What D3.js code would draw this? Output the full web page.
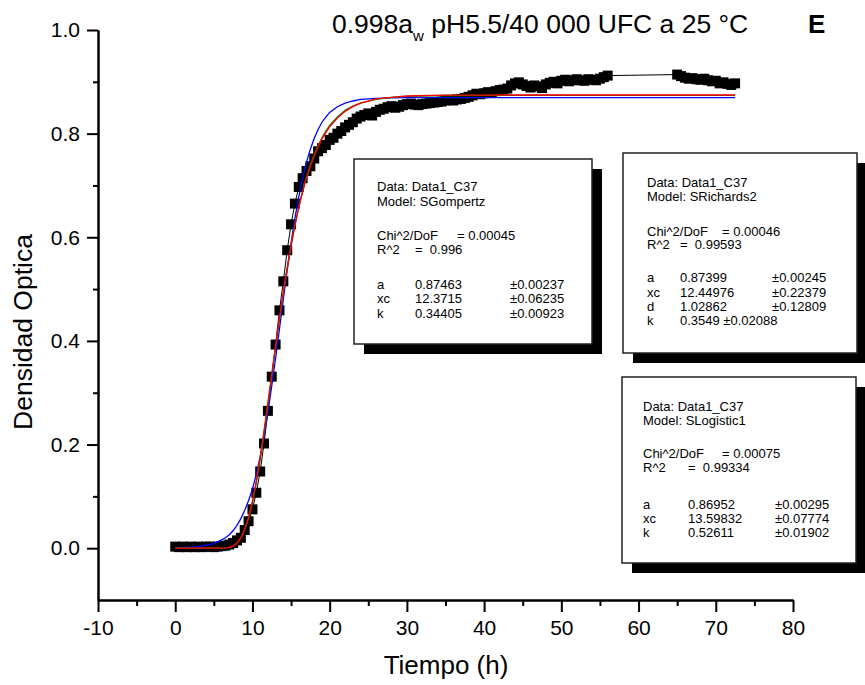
<!DOCTYPE html>
<html>
<head>
<meta charset="utf-8">
<script src="https://cdn.jsdelivr.net/npm/d3@7"></script>
<style>
  body { margin: 0; background: #fff; }
  svg { font-family: Arial, "Liberation Sans", sans-serif; }
  .axis path, .axis line { stroke: #000; stroke-width: 2; }
  .axis text { font-size: 21px; fill: #000; font-family: Arial, "Liberation Sans", sans-serif; }
  .box text { font-size: 13px; white-space: pre; fill: #000; }
</style>
</head>
<body>
<div id="plot"></div>
<script>
// measured data (hours, optical density)
const hours1 = [0,0.5,1,1.5,2,2.5,3,3.5,4,4.5,5,5.5,6,6.5,7,7.5,8,8.5,9,9.5,10,10.5,11,11.5,12,12.5,13,13.5,14,14.5,15,15.5,16,16.5,17,17.5,18,18.5,19,19.5,20,20.5,21,21.5,22,22.5,23,23.5,24,24.5,25,25.5,26,26.5,27,27.5,28,28.5,29,29.5,30,30.5,31,31.5,32,32.5,33,33.5,34,34.5,35,35.5,36,36.5,37,37.5,38,38.5,39,39.5,40,40.5,41,41.5,42,42.5,43,43.5,44,44.5,45,45.5,46,46.5,47,47.5,48,48.5,49,49.5,50,50.5,51,51.5,52,52.5,53,53.5,54,54.5,55,55.5,56]
const od1 = [0.003,0.002,0.003,0.002,0.003,0.002,0.003,0.002,0.003,0.003,0.002,0.003,0.004,0.005,0.007,0.010,0.015,0.020,0.035,0.052,0.075,0.107,0.148,0.202,0.265,0.331,0.393,0.459,0.515,0.575,0.625,0.665,0.697,0.714,0.728,0.737,0.752,0.766,0.772,0.778,0.788,0.792,0.800,0.805,0.812,0.817,0.822,0.829,0.833,0.836,0.839,0.835,0.842,0.846,0.848,0.851,0.853,0.850,0.852,0.855,0.857,0.858,0.856,0.855,0.857,0.858,0.859,0.860,0.861,0.862,0.864,0.865,0.864,0.866,0.867,0.869,0.871,0.874,0.877,0.876,0.878,0.880,0.879,0.882,0.884,0.885,0.887,0.893,0.897,0.899,0.895,0.892,0.889,0.893,0.891,0.888,0.895,0.898,0.900,0.897,0.902,0.904,0.901,0.903,0.905,0.903,0.902,0.905,0.904,0.903,0.906,0.909,0.912]
const hours2 = [65,65.5,66,66.5,67,67.5,68,68.5,69,69.5,70,70.5,71,71.5,72,72.5]
const od2 = [0.914,0.911,0.908,0.906,0.907,0.905,0.904,0.906,0.903,0.901,0.902,0.897,0.899,0.896,0.894,0.897]

// fitted curves
const fitHours = [0,1,2,3,4,5,6,6.5,7,7.5,8,8.5,9,9.5,10,10.5,11,11.5,12,12.5,13,13.5,14,14.5,15,15.5,16,16.5,17,17.5,18,18.5,19,19.5,20,21,22,23,24,26,28,30,35,40,50,60,72.5]
const logisticOD = [0.001,0.001,0.002,0.003,0.006,0.009,0.016,0.020,0.026,0.034,0.044,0.057,0.073,0.092,0.114,0.143,0.176,0.215,0.262,0.313,0.367,0.423,0.481,0.536,0.589,0.637,0.678,0.714,0.745,0.770,0.791,0.808,0.822,0.832,0.841,0.852,0.859,0.863,0.866,0.868,0.869,0.8695,0.8695,0.8695,0.8695,0.8695,0.8695]
const richardsOD = [0,0,0,0,0,0,0.0001,0.0006,0.0016,0.004,0.010,0.020,0.035,0.058,0.087,0.126,0.171,0.222,0.275,0.331,0.387,0.441,0.493,0.541,0.585,0.625,0.659,0.690,0.717,0.740,0.760,0.777,0.792,0.805,0.816,0.832,0.845,0.853,0.859,0.866,0.870,0.872,0.8736,0.8739,0.874,0.874,0.874]
const gompertzOD = [0,0,0,0,0,0,0.0001,0.0005,0.0015,0.004,0.010,0.020,0.036,0.060,0.091,0.130,0.176,0.227,0.281,0.336,0.391,0.444,0.494,0.540,0.583,0.622,0.657,0.687,0.714,0.737,0.757,0.775,0.790,0.802,0.813,0.830,0.843,0.852,0.859,0.867,0.870,0.8726,0.8742,0.8745,0.8746,0.8746,0.8746]

const xTicks = [-10,0,10,20,30,40,50,60,70,80]
const xMinor = [-5,5,15,25,35,45,55,65,75]
const yTicks = [0,0.2,0.4,0.6,0.8,1.0]
const yMinor = [0.1,0.3,0.5,0.7,0.9]

// fit reports
const boxGompertz = [
  ["Data: Data1_C37"], ["Model: SGompertz"], null,
  ["Chi^2/DoF", "", "", "= 0.00045"], ["R^2", "=  0.996"], null,
  ["a", "0.87463", "±0.00237"], ["xc", "12.3715", "±0.06235"], ["k", "0.34405", "±0.00923"]
]
const boxRichards = [
  ["Data: Data1_C37"], ["Model: SRichards2"], null,
  ["Chi^2/DoF", "", "", "= 0.00046"], ["R^2", "=  0.99593"], null,
  ["a", "0.87399", "±0.00245"], ["xc", "12.44976", "±0.22379"], ["d", "1.02862", "±0.12809"], ["k", "0.3549 ±0.02088"]
]
const boxLogistic = [
  ["Data: Data1_C37"], ["Model: SLogistic1"], null,
  ["Chi^2/DoF", "", "", "= 0.00075"], ["R^2", "=  0.99334"], null,
  ["a", "0.86952", "±0.00295"], ["xc", "13.59832", "±0.07774"], ["k", "0.52611", "±0.01902"]
]

const W = 865, H = 685

const x = d3.scaleLinear().domain([-10, 80]).range([98, 793])
const y = d3.scaleLinear().domain([-0.1, 1.0]).range([600, 30])

const svg = d3.select("#plot").append("svg")
  .attr("width", W).attr("height", H)

// axes
svg.append("g")
  .attr("class", "axis")
  .attr("transform", `translate(0, ${y(-0.1)})`)
  .call(d3.axisBottom(x).tickValues(xMinor).tickSize(6).tickSizeOuter(0).tickFormat(""))
svg.append("g")
  .attr("class", "axis")
  .attr("transform", `translate(0, ${y(-0.1)})`)
  .call(d3.axisBottom(x).tickValues(xTicks).tickSize(12).tickSizeOuter(0).tickPadding(8).tickFormat(d3.format("d")))

svg.append("g")
  .attr("class", "axis")
  .attr("transform", `translate(${x(-10)}, 0)`)
  .call(d3.axisLeft(y).tickValues(yMinor).tickSize(5).tickSizeOuter(0).tickFormat(""))
svg.append("g")
  .attr("class", "axis")
  .attr("transform", `translate(${x(-10)}, 0)`)
  .call(d3.axisLeft(y).tickValues(yTicks).tickSize(11).tickSizeOuter(0).tickPadding(7).tickFormat(d3.format(".1f")))

svg.selectAll(".axis text").text(function() { return this.textContent.replace("\u2212", "-") })

// axis titles
svg.append("text")
  .attr("x", 446).attr("y", 674)
  .attr("text-anchor", "middle")
  .style("font-size", "26px")
  .text("Tiempo (h)")
svg.append("text")
  .attr("transform", "translate(32, 332) rotate(-90)")
  .attr("text-anchor", "middle")
  .style("font-size", "26.5px")
  .text("Densidad Optica")

// title
const title = svg.append("text")
  .attr("x", 332).attr("y", 33)
  .style("font-size", "26.5px")
title.append("tspan").text("0.998a")
title.append("tspan").attr("dy", 8).style("font-size", "15px").text("w")
title.append("tspan").attr("dy", -8).text(" pH5.5/40 000 UFC a 25 °C")

svg.append("text")
  .attr("x", 808).attr("y", 33)
  .style("font-size", "26px").style("font-weight", "bold")
  .text("E")

// data
const pts = hours1.map((h, i) => ({h, v: od1[i]}))
  .concat(hours2.map((h, i) => ({h, v: od2[i]})))

svg.append("path")
  .datum(pts)
  .attr("fill", "none")
  .attr("stroke", "#000")
  .attr("stroke-width", 1)
  .attr("d", d3.line().x(d => x(d.h)).y(d => y(d.v)))

const sq = 10
svg.append("g").selectAll("rect")
  .data(pts)
  .join("rect")
  .attr("x", d => x(d.h) - sq / 2)
  .attr("y", d => y(d.v) - sq / 2)
  .attr("width", sq).attr("height", sq)
  .attr("fill", "#000")

// fit curves
const curves = [
  {vals: logisticOD, color: "#0000ff"},
  {vals: richardsOD, color: "#008000"},
  {vals: gompertzOD, color: "#ff0000"}
]
curves.forEach(c => {
  svg.append("path")
    .datum(fitHours.map((h, i) => ({h, v: c.vals[i]})))
    .attr("fill", "none")
    .attr("stroke", c.color)
    .attr("stroke-width", 1.3)
    .attr("d", d3.line().x(d => x(d.h)).y(d => y(d.v)))
})

// report boxes
const drawBox = (rows, b) => {
  const g = svg.append("g").attr("class", "box")
  g.append("rect")
    .attr("x", b.left + 10).attr("y", b.top + 10)
    .attr("width", b.w).attr("height", b.h)
    .attr("fill", "#000")
  g.append("rect")
    .attr("x", b.left).attr("y", b.top)
    .attr("width", b.w).attr("height", b.h)
    .attr("fill", "#fff").attr("stroke", "#222").attr("stroke-width", 1.5)
  let ri = 0
  rows.forEach(r => {
    const yy = b.top + b.ys[ri]
    ri++
    if (!r) return
    const cols = [b.tx, b.vx, b.ex, b.cx]
    r.forEach((t, j) => {
      if (!t) return
      g.append("text").attr("x", cols[j]).attr("y", yy).text(t)
    })
  })
}

drawBox(boxGompertz, {left: 354, top: 159, w: 238, h: 185, tx: 377, vx: 415, ex: 510, cx: 457,
  ys: [31.7, 46.5, 0, 81, 95, 0, 129.7, 144, 158.5]})
drawBox(boxRichards, {left: 623, top: 153, w: 234, h: 200, tx: 647, vx: 680, ex: 772, cx: 722,
  ys: [33.7, 47.7, 0, 82.7, 96.3, 0, 129, 143.7, 157.7, 172]})
drawBox(boxLogistic, {left: 622, top: 377, w: 234, h: 186, tx: 643, vx: 688, ex: 775, cx: 722,
  ys: [33.7, 48, 0, 81.3, 95, 0, 132, 146, 160]})
</script>
</body>
</html>
